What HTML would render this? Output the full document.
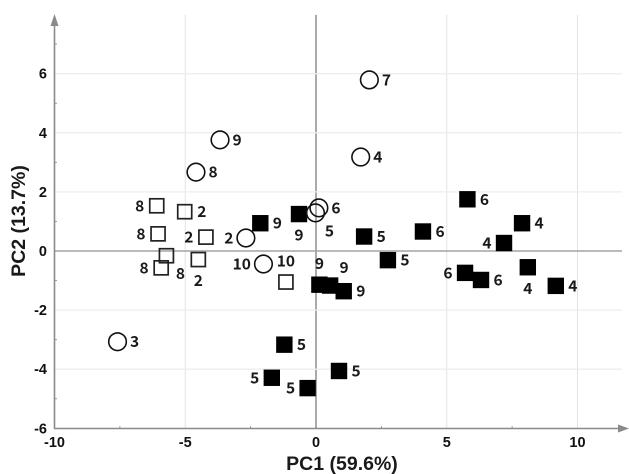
<!DOCTYPE html>
<html lang="en">
<head>
<meta charset="utf-8">
<title>PCA score plot</title>
<style>
html,body{margin:0;padding:0;background:#fff;width:629px;height:474px;overflow:hidden}
svg{display:block}
.tick{font:bold 14.5px "Liberation Sans",sans-serif;fill:#111}
.title{font:bold 19.5px "Liberation Sans",sans-serif;fill:#1a1a1a}
.pt{font:bold 15.5px "Noto Sans CJK JP","Liberation Sans",sans-serif;fill:#1a1a1a}
</style>
</head>
<body>
<svg id="chart" width="629" height="474" viewBox="0 0 629 474" xmlns="http://www.w3.org/2000/svg">
<text class="title" x="342" y="470" text-anchor="middle">PC1 (59.6%)</text>
<text class="title" transform="translate(25 221) rotate(-90)" text-anchor="middle">PC2 (13.7%)</text>
</svg>
<script>
var xTicks = [-10, -5, 0, 5, 10];
var yTicks = [-6, -4, -2, 0, 2, 4, 6];
var xMinorTicks = [-7.5, -2.5, 2.5, 7.5];
var yMinorTicks = [-5, -3, -1, 1, 3, 5, 7];

var circleX = [-3.67, -4.59, 2.04, 1.71, 0.11, -0.02, -2.68, -2.01, -7.59];
var circleY = [3.76, 2.67, 5.79, 3.18, 1.46, 1.29, 0.44, -0.44, -3.07];
var circleLabels = ['9', '8', '7', '4', '6', '5', '2', '10', '3'];
var circleSides = ['R', 'R', 'R', 'R', 'R', 'BR', 'L', 'L', 'R'];

var openX = [-6.09, -5.02, -6.04, -4.21, -5.72, -5.92, -4.50, -1.15];
var openY = [1.53, 1.33, 0.58, 0.47, -0.16, -0.57, -0.29, -1.05];
var openLabels = ['8', '2', '8', '2', '8', '8', '2', '10'];
var openSides = ['L', 'R', 'L', 'L', 'BR', 'L', 'B', 'A'];

var filledX = [-2.13, -0.65, 1.84, 4.09, 5.79, 7.88, 7.19, 8.10, 9.17, 5.70, 6.31, 2.75, 0.13, 0.54, 1.06, -1.21, -1.69, -0.32, 0.88];
var filledY = [0.94, 1.25, 0.49, 0.66, 1.75, 0.94, 0.27, -0.55, -1.18, -0.74, -0.98, -0.31, -1.14, -1.17, -1.36, -3.17, -4.29, -4.64, -4.06];
var filledLabels = ['9', '9', '5', '6', '6', '4', '4', '4', '4', '6', '6', '5', '9', '9', '9', '5', '5', '5', '5'];
var filledSides = ['R', 'B', 'R', 'R', 'R', 'R', 'L', 'B', 'R', 'L', 'R', 'R', 'A', 'AR', 'R', 'R', 'L', 'L', 'R'];

var svg = document.getElementById('chart');
var NS = 'http://www.w3.org/2000/svg';

function sx(v) { return 316 + v * 26.15; }
function sy(v) { return 251 - v * 29.55; }

function make(tag, attrs) {
  var el = document.createElementNS(NS, tag);
  for (var k in attrs) el.setAttribute(k, attrs[k]);
  svg.appendChild(el);
  return el;
}

xTicks.forEach(function (t) {
  if (t === -10) return;
  var el = make('line', {
    x1: sx(t), x2: sx(t), y1: 15, y2: 428.5,
    stroke: t === 0 ? '#aaaaaa' : '#e3e3e3',
    'stroke-width': t === 0 ? 2 : 1
  });
  
  
});

yTicks.forEach(function (t) {
  if (t === -6) return;
  var el = make('line', {
    x1: 54.5, x2: 622, y1: sy(t), y2: sy(t),
    stroke: t === 0 ? '#a3a3a3' : '#eeeeee',
    'stroke-width': t === 0 ? 1.5 : 1.3
  });
  
  
});

xMinorTicks.forEach(function (t) {
  var el = make('line', { x1: sx(t), x2: sx(t), y1: 426, y2: 428.5, stroke: '#999', 'stroke-width': 1 });
  
  
});

yMinorTicks.forEach(function (t) {
  var el = make('line', { x1: 54.5, x2: 57, y1: sy(t), y2: sy(t), stroke: '#999', 'stroke-width': 1 });
  
  
});

var yAxis = make('line', { x1: 54.5, x2: 54.5, y1: 24, y2: 429, stroke: '#8a8a8a', 'stroke-width': 1.6 });



var xAxis = make('line', { x1: 54, x2: 620, y1: 428.5, y2: 428.5, stroke: '#8a8a8a', 'stroke-width': 1.6 });



var yArrow = make('polygon', { points: '54.5,14 50.5,26 58.5,26', fill: '#8a8a8a' });



var xArrow = make('polygon', { points: '629,428.5 618,424.5 618,432.5', fill: '#8a8a8a' });



xTicks.forEach(function (t) {
  var el = make('text', { x: sx(t), y: 447, 'text-anchor': 'middle', 'class': 'tick' });
  el.textContent = t;
  
  
});

yTicks.forEach(function (t) {
  var el = make('text', { x: 47, y: sy(t) + 5, 'text-anchor': 'end', 'class': 'tick' });
  el.textContent = t;
  
  
});

function addLabel(px, py, text, side) {
  var dx = 0, dy = 0, anchor = 'middle';
  if (side === 'R') { dx = 12.5; anchor = 'start'; }
  if (side === 'L') { dx = -12.5; anchor = 'end'; }
  if (side === 'A') { dy = -21; }
  if (side === 'B') { dy = 21; }
  if (side === 'AR') { dx = 14; dy = -18; }
  if (side === 'BR') { dx = 14; dy = 18; }
  var el = make('text', { x: px + dx, y: py + dy + 5.5, 'text-anchor': anchor, 'class': 'pt' });
  el.textContent = text;
  
  
}

openX.forEach(function (v, i) {
  var px = sx(v), py = sy(openY[i]);
  var el = make('rect', { x: px - 7, y: py - 7, width: 14, height: 14, fill: 'none', stroke: '#222', 'stroke-width': 1.7 });
  
  
  addLabel(px, py, openLabels[i], openSides[i]);
});

filledX.forEach(function (v, i) {
  var px = sx(v), py = sy(filledY[i]);
  var el = make('rect', { x: px - 8.2, y: py - 8.2, width: 16.4, height: 16.4, fill: '#000' });
  
  
  addLabel(px, py, filledLabels[i], filledSides[i]);
});

circleX.forEach(function (v, i) {
  var px = sx(v), py = sy(circleY[i]);
  var el = make('circle', { cx: px, cy: py, r: 8.8, fill: 'none', stroke: '#111', 'stroke-width': 1.6 });
  
  
  addLabel(px, py, circleLabels[i], circleSides[i]);
});
</script>
</body>
</html>
